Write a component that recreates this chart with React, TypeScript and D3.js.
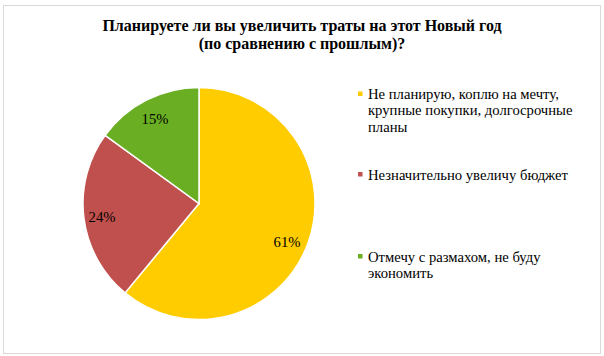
import React from "react";
import * as d3 from "d3";

const categories = [
  "Не планирую, коплю на мечту, крупные покупки, долгосрочные планы",
  "Незначительно увеличу бюджет",
  "Отмечу с размахом, не буду экономить",
];
const values = [61, 24, 15];
const colors = ["#FFCC00", "#C0504D", "#6AAF23"];
const legendLines = [
  ["Не планирую, коплю на мечту,", "крупные покупки, долгосрочные", "планы"],
  ["Незначительно увеличу бюджет"],
  ["Отмечу с размахом, не буду", "экономить"],
];
const titleLines = ["Планируете ли вы увеличить траты на этот Новый год", "(по сравнению с прошлым)?"];

export default function App() {
  const W = 604, H = 356;
  const cx = 199, cy = 203.5, r = 116;
  const pie = d3.pie<number>().sort(null).value((d) => d);
  const arcs = pie(values);
  const arc = d3.arc<d3.PieArcDatum<number>>().innerRadius(0).outerRadius(r);
  const labelPos = [
    [287, 246.5],
    [102, 221.5],
    [155, 123.5],
  ];
  const legendY = [99, 179.5, 261.5];
  const lineH = 16.3;
  return (
    <svg width={W} height={H} style={{ position: "absolute", left: 0, top: 0 }} fontFamily="'Liberation Serif', 'Times New Roman', serif">
      <rect x={0} y={0} width={W} height={H} fill="#fff" />
      <rect x={3.5} y={5.5} width={597} height={348} fill="#fff" stroke="#d9d9d9" strokeWidth={1} />
      {titleLines.map((t, i) => (
        <text key={i} x={302} y={30.7 + i * 18} textAnchor="middle" fontWeight="bold" fontSize={16} fill="#000">
          {t}
        </text>
      ))}
      <g transform={`translate(${cx},${cy})`}>
        {arcs.map((a, i) => (
          <path key={i} d={arc(a) || ""} fill={colors[i]} stroke="#fff" strokeWidth={1.5}>
            <title>{categories[i]}</title>
          </path>
        ))}
      </g>
      {arcs.map((a, i) => (
        <text key={i} x={labelPos[i][0]} y={labelPos[i][1]} textAnchor="middle" fontSize={14.67} fill="#000">
          {values[i]}%
        </text>
      ))}
      {legendLines.map((lines, i) => (
        <g key={i}>
          <rect x={358} y={legendY[i] - 7.5} width={4.5} height={4.5} fill={colors[i]} />
          {lines.map((l, j) => (
            <text key={j} x={368} y={legendY[i] + j * lineH} fontSize={14.67} fill="#000">
              {l}
            </text>
          ))}
        </g>
      ))}
    </svg>
  );
}
